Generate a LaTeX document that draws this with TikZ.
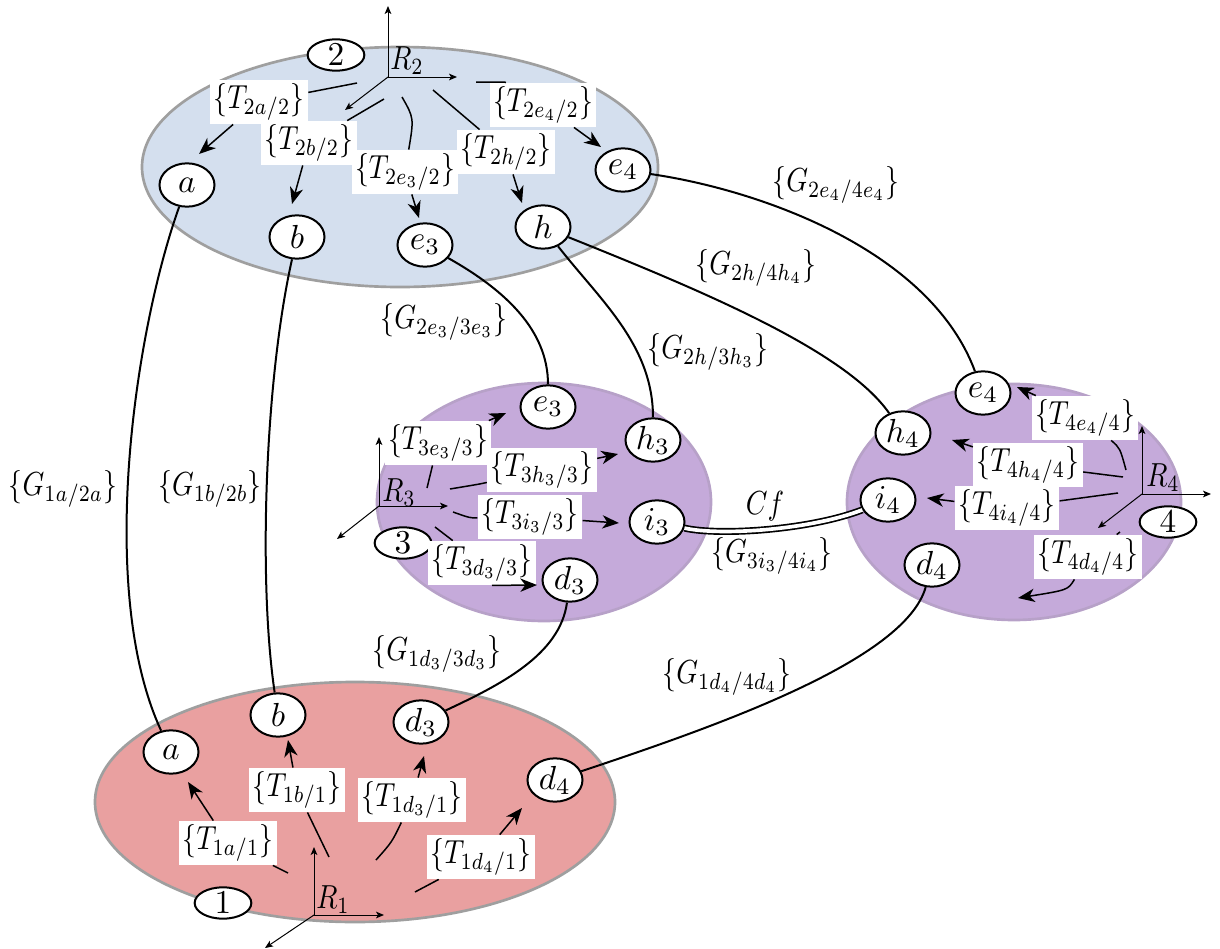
\documentclass[tikz,border=0pt]{standalone}
\usepackage{graphicx}
\usetikzlibrary{shapes.geometric,arrows.meta}
\definecolor{regblue}{RGB}{212,223,238}
\definecolor{regred}{RGB}{233,160,160}
\definecolor{regpurple}{RGB}{197,170,218}
\newcommand{\nx}[1]{\scalebox{0.83}[1]{#1}}
\begin{document}
\begin{tikzpicture}[x=0.3pt,y=-0.3pt,
  region/.style={draw=gray!75,line width=0.8pt},
  st/.style={ellipse,draw,fill=white,line width=0.6pt,minimum width=16.5pt,minimum height=13pt,inner sep=0pt},
  num/.style={ellipse,draw,fill=white,line width=0.6pt,minimum width=17pt,minimum height=9.4pt,inner sep=0pt},
  lab/.style={fill=white,inner sep=1pt},
  glab/.style={inner sep=0.5pt},
  tl/.style={line width=0.45pt},
  ta/.style={line width=0.45pt,-{Stealth[length=5pt,width=4pt,inset=1.5pt]}},
  ax/.style={line width=0.3pt,-{Stealth[length=2.4pt,width=2pt,inset=0.6pt]}},
  gl/.style={line width=0.6pt}]
\useasboundingbox (0,0) rectangle (1220,949);

% regions
\fill[regblue] (400,167) ellipse [x radius=77.4pt, y radius=36pt];
\draw[region] (400,167) ellipse [x radius=77.4pt, y radius=36pt];
\fill[regpurple] (544,502) ellipse [x radius=50.1pt, y radius=35.7pt];
\draw[region,draw=regpurple!80!gray] (544,502) ellipse [x radius=50.1pt, y radius=35.7pt];
\fill[regpurple] (1014,502) ellipse [x radius=50.1pt, y radius=35.4pt];
\draw[region,draw=regpurple!80!gray] (1014,502) ellipse [x radius=50.1pt, y radius=35.4pt];
\fill[regred] (355,802) ellipse [x radius=78pt, y radius=36pt];
\draw[region] (355,802) ellipse [x radius=78pt, y radius=36pt];

% ---------- region 2 ----------
\node[st] (A2) at (187,185) {$a$};
\node[st] (B2) at (297,237) {$b$};
\node[st] (E32) at (425,245) {$e_3$};
\node[st] (H2) at (543,227) {$h$};
\node[st] (E42) at (623,170) {$e_4$};
\node[num] (N2) at (336,55) {$2$};
\coordinate (O2) at (388,77);
\coordinate (O2u) at (388,6);
\coordinate (O2r) at (457,77);
\coordinate (O2d) at (345,110);
\draw[ax] (O2) -- (O2u);
\draw[ax] (O2) -- (O2r);
\draw[ax] (O2) -- (O2d);
\node (R2) at (407,61) {\nx{$R_2$}};

\node[lab] (T2a) at (259,102) {\nx{$\{T_{2a/2}\}$}};
\node[lab] (T2b) at (309,143) {\nx{$\{T_{2b/2}\}$}};
\node[lab] (T2e3) at (405,172) {\nx{$\{T_{2e_3/2}\}$}};
\node[lab] (T2h) at (506,152) {\nx{$\{T_{2h/2}\}$}};
\node[lab] (T2e4) at (543,105) {\nx{$\{T_{2e_4/2}\}$}};
\coordinate (s2a) at (357,83);   \coordinate (t2a) at (199,154);
\coordinate (s2b) at (384,99);   \coordinate (t2b) at (292,204);
\coordinate (s2e3) at (402,97);  \coordinate (t2e3) at (419,218);
\coordinate (s2h) at (433,90);   \coordinate (t2h) at (522,203);
\coordinate (s2e4) at (476,82);  \coordinate (t2e4) at (601,147);
\draw[tl] (s2a) -- (T2a);  \draw[ta] (T2a) -- (t2a);
\draw[tl] (s2b) -- (T2b);  \draw[ta] (T2b) -- (t2b);
\draw[tl] (s2e3) .. controls (414,118) .. (T2e3);  \draw[ta] (T2e3) -- (t2e3);
\draw[tl] (s2h) -- (T2h);  \draw[ta] (T2h) -- (t2h);
\draw[tl] (s2e4) .. controls (505,82) .. (T2e4);  \draw[ta] (T2e4) -- (t2e4);

% ---------- region 3 ----------
\node[st] (E33) at (548,407) {$e_3$};
\node[st] (H33) at (653,440) {$h_3$};
\node[st] (I33) at (657,522) {$i_3$};
\node[st] (D33) at (570,580) {$d_3$};
\node[num] (N3) at (403,543) {$3$};
\coordinate (O3) at (379,506);
\coordinate (O3u) at (379,437);
\coordinate (O3r) at (448,506);
\coordinate (O3d) at (337,539);
\draw[ax] (O3) -- (O3u);
\draw[ax] (O3) -- (O3r);
\draw[ax] (O3) -- (O3d);
\node (R3) at (399,493) {\nx{$R_3$}};

\node[lab] (T3e3) at (438,443) {\nx{$\{T_{3e_3/3}\}$}};
\node[lab] (T3h3) at (542,470) {\nx{$\{T_{3h_3/3}\}$}};
\node[lab] (T3i3) at (530,517) {\nx{$\{T_{3i_3/3}\}$}};
\node[lab] (T3d3) at (482,563) {\nx{$\{T_{3d_3/3}\}$}};
\coordinate (s3e3) at (427,488);  \coordinate (t3e3) at (506,413);
\coordinate (s3h3) at (450,489);  \coordinate (t3h3) at (618,454);
\coordinate (s3i3) at (453,512);  \coordinate (t3i3) at (619,523);
\coordinate (s3d3) at (435,527);  \coordinate (t3d3) at (537,585);
\draw[tl] (s3e3) -- (T3e3);  \draw[ta] (T3e3) -- (t3e3);
\draw[tl] (s3h3) .. controls (480,484) .. (T3h3);  \draw[ta] (T3h3) -- (t3h3);
\draw[tl] (s3i3) .. controls (470,518) .. (T3i3);  \draw[ta] (T3i3) -- (t3i3);
\draw[tl] (s3d3) -- (T3d3);  \draw[ta] ([xshift=3pt]T3d3.south) -- (t3d3);

% ---------- region 4 ----------
\node[st] (E44) at (983,393) {$e_4$};
\node[st] (H44) at (903,433) {$h_4$};
\node[st] (I44) at (888,500) {$i_4$};
\node[st] (D44) at (932,565) {$d_4$};
\node[num] (N4) at (1168,522) {$4$};
\coordinate (O4) at (1142,494);
\coordinate (O4u) at (1142,426);
\coordinate (O4r) at (1211,494);
\coordinate (O4d) at (1098,528);
\draw[ax] (O4) -- (O4u);
\draw[ax] (O4) -- (O4r);
\draw[ax] (O4) -- (O4d);
\node (R4) at (1163,478) {\nx{$R_4$}};

\node[lab] (T4e4) at (1085,418) {\nx{$\{T_{4e_4/4}\}$}};
\node[lab] (T4h4) at (1028,465) {\nx{$\{T_{4h_4/4}\}$}};
\node[lab] (T4i4) at (1007,508) {\nx{$\{T_{4i_4/4}\}$}};
\node[lab] (T4d4) at (1088,557) {\nx{$\{T_{4d_4/4}\}$}};
\coordinate (s4e4) at (1126,470);  \coordinate (t4e4) at (1017,387);
\coordinate (s4h4) at (1123,477);  \coordinate (t4h4) at (952,440);
\coordinate (s4i4) at (1118,493);  \coordinate (t4i4) at (927,498);
\coordinate (s4d4) at (1120,532);  \coordinate (t4d4) at (1018,598);
\draw[tl] (s4e4) .. controls (1120,448) .. (T4e4);  \draw[ta] (T4e4) -- (t4e4);
\draw[tl] (s4h4) -- (T4h4);  \draw[ta] (T4h4) -- (t4h4);
\draw[tl] (s4i4) -- (T4i4);  \draw[ta] (T4i4) -- (t4i4);
\draw[tl] (s4d4) -- (T4d4);  \draw[ta] (T4d4) .. controls (1068,590) .. (t4d4);

% ---------- region 1 ----------
\node[st] (A1) at (171,752) {$a$};
\node[st] (B1) at (278,715) {$b$};
\node[st] (D31) at (421,722) {$d_3$};
\node[st] (D41) at (555,780) {$d_4$};
\node[num] (N1) at (223,903) {$1$};
\coordinate (O1) at (314,915);
\coordinate (O1u) at (314,847);
\coordinate (O1r) at (384,915);
\coordinate (O1d) at (265,948);
\draw[ax] (O1) -- (O1u);
\draw[ax] (O1) -- (O1r);
\draw[ax] (O1) -- (O1d);
\node (R1) at (333,900) {\nx{$R_1$}};

\node[lab] (T1a) at (228,843) {\nx{$\{T_{1a/1}\}$}};
\node[lab] (T1b) at (297,790) {\nx{$\{T_{1b/1}\}$}};
\node[lab] (T1d3) at (412,800) {\nx{$\{T_{1d_3/1}\}$}};
\node[lab] (T1d4) at (481,857) {\nx{$\{T_{1d_4/1}\}$}};
\coordinate (s1a) at (288,873);   \coordinate (t1a) at (188,782);
\coordinate (s1b) at (329,857);   \coordinate (t1b) at (288,740);
\coordinate (s1d3) at (376,860);  \coordinate (t1d3) at (424,756);
\coordinate (s1d4) at (415,892);  \coordinate (t1d4) at (522,808);
\draw[tl] (s1a) -- (T1a);  \draw[ta] (T1a) -- (t1a);
\draw[tl] (s1b) .. controls (318,835) .. (T1b);  \draw[ta] (T1b) -- (t1b);
\draw[tl] (s1d3) .. controls (392,842) .. (T1d3);  \draw[ta] (T1d3) -- (t1d3);
\draw[tl] (s1d4) -- (T1d4);  \draw[ta] (T1d4) -- (t1d4);

% ---------- inter-region connectors ----------
\draw[gl] (A2) .. controls (135,330) and (96,590) .. (A1);
\draw[gl] (B2) .. controls (265,380) and (258,580) .. (B1);
\draw[gl] (E32) .. controls (505,290) and (548,330) .. (E33);
\draw[gl] (H2) .. controls (600,300) and (653,345) .. (H33);
\draw[gl] (H2) .. controls (700,290) and (845,350) .. (H44);
\draw[gl] (E42) .. controls (760,190) and (930,250) .. (E44);
\draw[gl] (D33) .. controls (560,655) and (500,685) .. (D31);
\draw[gl] (D44) .. controls (905,660) and (720,725) .. (D41);
\draw[line width=0.5pt,double,double distance=1.1pt] (I33) .. controls (720,536) and (810,530) .. (I44);

\node[glab] (G1a) at (63,489) {\nx{$\{G_{1a/2a}\}$}};
\node[glab] (G1b) at (210,489) {\nx{$\{G_{1b/2b}\}$}};
\node[glab] (G2e3) at (444,322) {\nx{$\{G_{2e_3/3e_3}\}$}};
\node[glab] (G2h3) at (708,352) {\nx{$\{G_{2h/3h_3}\}$}};
\node[glab] (G2h4) at (756,268) {\nx{$\{G_{2h/4h_4}\}$}};
\node[glab] (G2e4) at (836,185) {\nx{$\{G_{2e_4/4e_4}\}$}};
\node[glab] (Cf) at (765,506) {\nx{$Cf$}};
\node[glab] (G3i) at (772,556) {\nx{$\{G_{3i_3/4i_4}\}$}};
\node[glab] (G1d3) at (437,654) {\nx{$\{G_{1d_3/3d_3}\}$}};
\node[glab] (G1d4) at (727,677) {\nx{$\{G_{1d_4/4d_4}\}$}};
\end{tikzpicture}
\end{document}
